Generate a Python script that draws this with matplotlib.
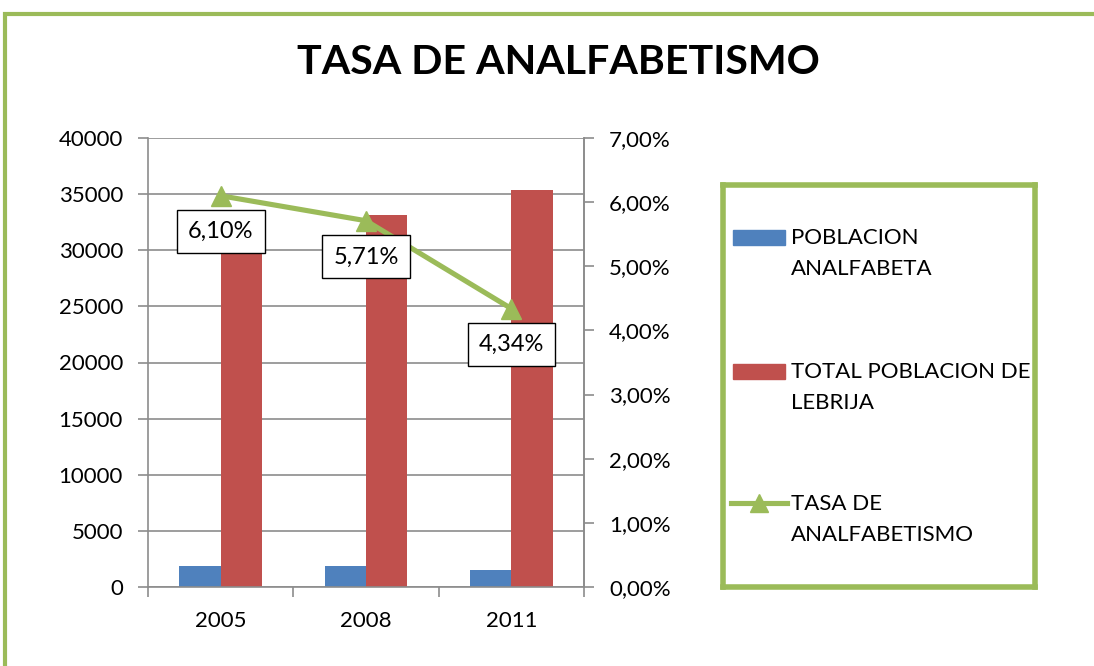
import matplotlib
matplotlib.use("Agg")
import matplotlib.pyplot as plt
from matplotlib.patches import Rectangle
from matplotlib.lines import Line2D
from matplotlib.ticker import FuncFormatter, FixedLocator

plt.rcParams['font.family'] = ['Lato', 'DejaVu Sans']

years = ["2005", "2008", "2011"]
poblacion_analfabeta = [1890, 1890, 1536]
total_poblacion = [31000, 33100, 35400]
tasa = [6.10, 5.71, 4.34]
series_names = ["POBLACION\nANALFABETA", "TOTAL POBLACION DE\nLEBRIJA", "TASA DE\nANALFABETISMO"]
title = "TASA DE ANALFABETISMO"

BLUE = "#4F81BD"
RED = "#C0504D"
GREEN = "#9BBB59"
GRID = "#8C8C8C"

fig = plt.figure(figsize=(10.94, 6.66), dpi=100)

# outer green frame
fig.add_artist(Rectangle((5/1094, -0.1), 1.2, 1 - 14/666 + 0.1, transform=fig.transFigure,
                         fill=False, edgecolor=GREEN, linewidth=3))

ax = fig.add_axes([148/1094, 1 - 587/666, 436/1094, 449/666])
x = list(range(len(years)))
w = 0.285
ax.bar([i - w/2 for i in x], poblacion_analfabeta, width=w, color=BLUE, zorder=2)
ax.bar([i + w/2 for i in x], total_poblacion, width=w, color=RED, zorder=2)
ax.set_xlim(-0.5, 2.5)
ax.set_ylim(0, 40000)
ax.set_yticks(range(0, 40001, 5000))
ax.yaxis.grid(True, color=GRID, linewidth=1.2, zorder=0)
ax.set_axisbelow(True)
ax.set_xticks(x)
ax.set_xticklabels(years)
ax.xaxis.set_minor_locator(FixedLocator([-0.5, 0.5, 1.5, 2.5]))
ax.tick_params(axis='x', which='major', length=0, pad=17, labelsize=16)
ax.tick_params(axis='x', which='minor', length=7, width=1.2, color=GRID, direction='out')
ax.tick_params(axis='y', length=7, width=1.2, color=GRID, pad=11, labelsize=16)
for s in ['left', 'bottom', 'right']:
    ax.spines[s].set_color(GRID)
    ax.spines[s].set_linewidth(1.2)
ax.spines['top'].set_visible(False)

ax2 = ax.twinx()
ax2.plot(x, tasa, color=GREEN, linewidth=3.7, marker='^', markersize=15, zorder=5)
ax2.set_ylim(0, 7)
ax2.set_yticks(range(0, 8))
ax2.yaxis.set_major_formatter(FuncFormatter(lambda v, p: f"{v:.2f}".replace('.', ',') + "%"))
ax2.tick_params(axis='y', length=7, width=1.2, color=GRID, pad=11, labelsize=16)
for s in ax2.spines.values():
    s.set_visible(False)
ax2.spines['right'].set_visible(True)
ax2.spines['right'].set_color(GRID)
ax2.spines['right'].set_linewidth(1.2)

for xi, t in zip(x, tasa):
    ax2.annotate(f"{t:.2f}".replace('.', ',') + "%", (xi, t), xytext=(0, -26),
                 textcoords='offset points', ha='center', va='center', fontsize=17,
                 bbox=dict(boxstyle='square,pad=0.47', fc='white', ec='black', lw=1), zorder=6)

fig.text(558/1094, 1 - 62/666, title, ha='center', va='center', fontsize=29.6, fontweight='bold')

# legend
lax = fig.add_axes([723/1094, 1 - 587/666, 312/1094, 402/666])
lax.set_xlim(0, 312)
lax.set_ylim(402, 0)
lax.set_xticks([])
lax.set_yticks([])
for s in lax.spines.values():
    s.set_color(GREEN)
    s.set_linewidth(4)
ys = [52, 186, 318]
lax.add_patch(Rectangle((10, ys[0] - 7.5), 52, 15, color=BLUE))
lax.add_patch(Rectangle((10, ys[1] - 7.5), 52, 15, color=RED))
lax.add_line(Line2D([8, 64], [ys[2], ys[2]], color=GREEN, linewidth=3.7))
lax.plot([36], [ys[2]], marker='^', color=GREEN, markersize=13)
for yy, name in zip(ys, series_names):
    lax.text(68, yy - 9, name, ha='left', va='top', fontsize=16, linespacing=1.7)

fig.savefig("out.png", dpi=100)
